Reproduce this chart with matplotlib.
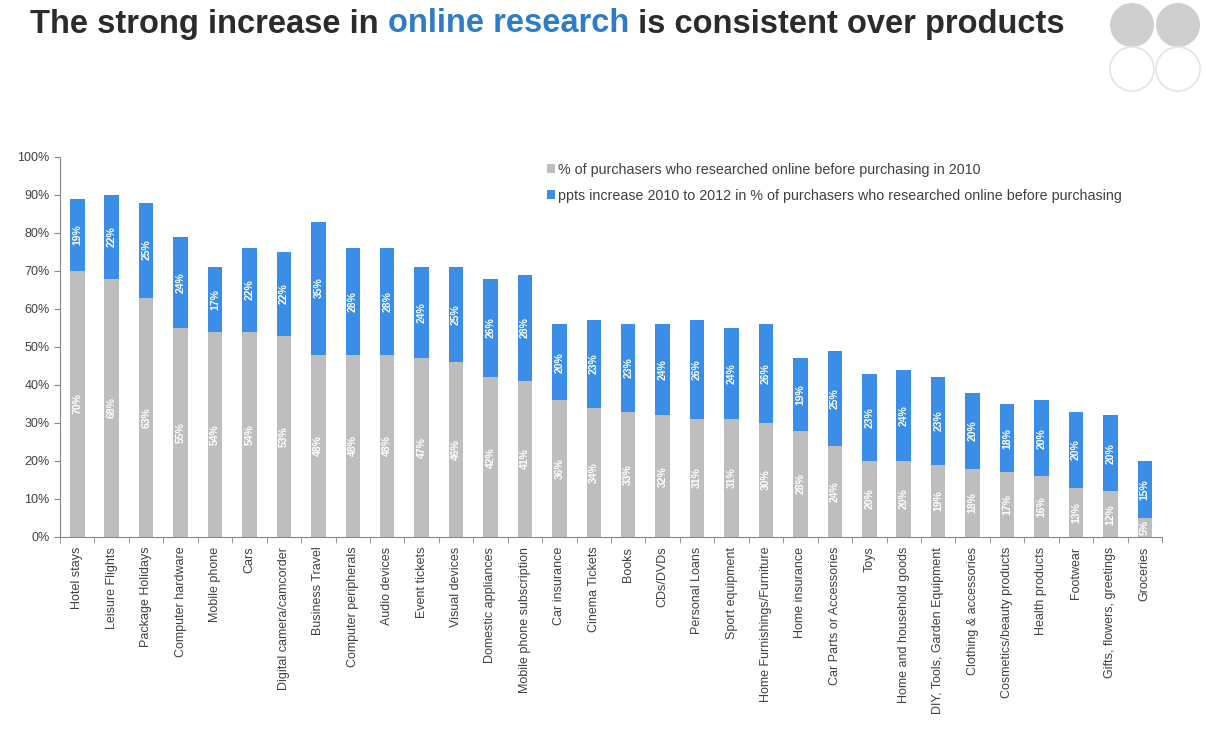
import matplotlib
matplotlib.use("Agg")
import matplotlib.pyplot as plt
from matplotlib.patches import Circle
import numpy as np

plt.rcParams['font.family'] = ['Liberation Sans', 'DejaVu Sans']

products = [
    "Hotel stays", "Leisure Flights", "Package Holidays", "Computer hardware",
    "Mobile phone", "Cars", "Digital camera/camcorder", "Business Travel",
    "Computer peripherals", "Audio devices", "Event tickets", "Visual devices",
    "Domestic appliances", "Mobile phone subscription", "Car insurance",
    "Cinema Tickets", "Books", "CDs/DVDs", "Personal Loans", "Sport equipment",
    "Home Furnishings/Furniture", "Home insurance", "Car Parts or Accessories",
    "Toys", "Home and household goods", "DIY, Tools, Garden Equipment",
    "Clothing & accessories", "Cosmetics/beauty products", "Health products",
    "Footwear", "Gifts, flowers, greetings", "Groceries",
]
# % researched online in 2010
share_2010 = [70, 68, 63, 55, 54, 54, 53, 48, 48, 48, 47, 46, 42, 41, 36, 34,
              33, 32, 31, 31, 30, 28, 24, 20, 20, 19, 18, 17, 16, 13, 12, 5]
# ppts increase 2010 -> 2012
increase = [19, 22, 25, 24, 17, 22, 22, 35, 28, 28, 24, 25, 26, 28, 20, 23,
            23, 24, 26, 24, 26, 19, 25, 23, 24, 23, 20, 18, 20, 20, 20, 15]

label_2010 = "% of purchasers who researched online before purchasing in 2010"
label_inc = "ppts increase 2010 to 2012 in % of purchasers who researched online before purchasing"

grey = '#BEBEBE'
blue = '#3A8EE8'
text_col = '#404040'

fig = plt.figure(figsize=(12.06, 7.51), dpi=100)
ax = fig.add_axes([0.0498, 0.285, 0.9137, 0.506])

x = np.arange(len(products))
base = np.array(share_2010) / 100
inc = np.array(increase) / 100
w = 0.42
ax.bar(x, base, w, color=grey, label=label_2010, zorder=2)
ax.bar(x, inc, w, bottom=base, color=blue, label=label_inc, zorder=2)

for i in range(len(products)):
    ax.text(x[i], base[i] / 2, f"{share_2010[i]}%", rotation=90, ha='center',
            va='center', color='white', fontsize=7.5, fontweight='bold', zorder=3)
    ax.text(x[i], base[i] + inc[i] / 2, f"{increase[i]}%", rotation=90,
            ha='center', va='center', color='white', fontsize=7.5,
            fontweight='bold', zorder=3)

ax.set_xlim(-0.5, len(products) - 0.5)
ax.set_ylim(0, 1)
ax.set_yticks(np.arange(0, 1.01, 0.1))
ax.set_yticklabels([f"{v}%" for v in range(0, 101, 10)])
ax.set_xticks(x)
ax.set_xticklabels(products, rotation=90, fontsize=9, color=text_col)
ax.set_xticks(np.arange(-0.5, len(products), 1), minor=True)
ax.tick_params(axis='x', which='major', length=0, pad=7)
ax.tick_params(axis='x', which='minor', length=4, color='#888888', direction='out')
ax.tick_params(axis='y', length=4, color='#888888', labelsize=9, labelcolor=text_col)

for s in ['top', 'right']:
    ax.spines[s].set_visible(False)
for s in ['left', 'bottom']:
    ax.spines[s].set_color('#888888')
    ax.spines[s].set_linewidth(0.8)

ax.legend(loc='upper left', bbox_to_anchor=(0.437, 1.0), frameon=False,
          fontsize=10.3, handlelength=0.55, handleheight=0.55, handletextpad=0.2,
          labelspacing=0.85, borderaxespad=0, labelcolor=text_col)

# title in three colour runs
renderer = fig.canvas.get_renderer()
parts = [("The strong increase in ", '#2B2B2B'),
         ("online research", '#2E7BC8'),
         (" is consistent over products", '#2B2B2B')]
xpos = 30
for txt, col in parts:
    t = fig.text(xpos / 1206, 1 - 24 / 751, txt, color=col, fontsize=23.5,
                 fontweight='bold', va='center', ha='left')
    bb = t.get_window_extent(renderer=renderer)
    xpos = bb.x1

# logo of four circles
lax = fig.add_axes([1108 / 1206, 1 - 93 / 751, 96 / 1206, 93 / 751])
lax.set_xlim(0, 96)
lax.set_ylim(0, 93)
lax.set_aspect('equal')
lax.axis('off')
for cx in (24, 70):
    lax.add_patch(Circle((cx, 68), 22, color='#CFCFCF', lw=0))
    lax.add_patch(Circle((cx, 24), 22, fill=False, ec='#E6E6E6', lw=1.3))

fig.savefig("out.png", dpi=100)
